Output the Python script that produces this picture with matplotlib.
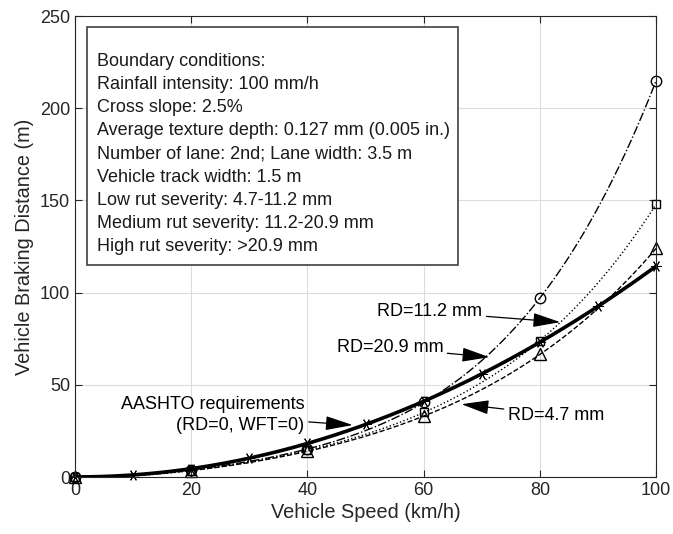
import numpy as np
import matplotlib.pyplot as plt
from matplotlib.patches import Rectangle

plt.rcParams['font.family'] = ['Liberation Sans', 'DejaVu Sans']

# Datos
speed = [0, 20, 40, 60, 80, 100]
rd_20_9 = [0, 4, 15, 40.5, 97, 215]
rd_11_2 = [0, 3.5, 14.5, 35, 74, 148]
rd_4_7 = [0, 3.5, 14, 33, 66.5, 124]

speed_aashto = [0, 10, 20, 30, 40, 50, 60, 70, 80, 90, 100]
aashto = [0, 1.1, 4.6, 10.3, 18.3, 28.5, 41, 56, 73, 92.5, 114.5]

info_lines = [
    "Boundary conditions:",
    "Rainfall intensity: 100 mm/h",
    "Cross slope: 2.5%",
    "Average texture depth: 0.127 mm (0.005 in.)",
    "Number of lane: 2nd; Lane width: 3.5 m",
    "Vehicle track width: 1.5 m",
    "Low rut severity: 4.7-11.2 mm",
    "Medium rut severity: 11.2-20.9 mm",
    "High rut severity: >20.9 mm",
]

fig = plt.figure(figsize=(6.73, 5.34), dpi=100)
ax = fig.add_axes([0.1114, 0.1067, 0.8636, 0.8633])

xs = np.linspace(0, 100, 300)


def smooth(x, y, deg):
    c = np.polyfit(x, y, deg)
    return np.clip(np.polyval(c, xs), 0, None)


# Curvas con marcadores
ax.plot(xs, smooth(speed, rd_20_9, 4), 'k-.', lw=1.0)
ax.plot(speed, rd_20_9, 'ko', mfc='none', ms=7.5, mew=1.0, clip_on=False)
ax.plot(xs, smooth(speed, rd_11_2, 4), 'k:', lw=1.0)
ax.plot(speed, rd_11_2, 'ks', mfc='none', ms=5.5, mew=1.0, clip_on=False)
ax.plot(xs, smooth(speed, rd_4_7, 4), 'k--', lw=1.0)
ax.plot(speed, rd_4_7, 'k^', mfc='none', ms=8, mew=1.0, clip_on=False)
ax.plot(xs, smooth(speed_aashto, aashto, 2), 'k-', lw=2.6)
ax.plot(speed_aashto, aashto, color='k', ls='none', marker=(6, 2, 90), ms=8, mew=0.7,
        clip_on=False)

ax.set_xlim(0, 100)
ax.set_ylim(0, 250)
ax.set_xticks(range(0, 101, 20))
ax.set_yticks(range(0, 251, 50))
ax.grid(True, color='#dcdcdc', lw=0.8)
ax.tick_params(direction='in', top=True, right=True, labelsize=13, colors='#262626', length=5)
for s in ax.spines.values():
    s.set_color('#262626')
ax.set_xlabel("Vehicle Speed (km/h)", fontsize=14.3, color='#262626', labelpad=3)
ax.set_ylabel("Vehicle Braking Distance (m)", fontsize=14.3, color='#262626', labelpad=4)

# Cuadro de condiciones
ax.add_patch(Rectangle((2.07, 115), 63.8, 129, fc='white', ec='#404040', lw=1.2, zorder=3))
for i, line in enumerate(info_lines):
    ax.text(3.8, 225.6 - i * 12.6, line, fontsize=13, va='center', ha='left',
            color='#1a1a1a', zorder=4)

# Anotaciones con flechas
arrow = dict(arrowstyle='-|>,head_length=0.85,head_width=0.22', color='k', lw=0.9,
             mutation_scale=20, shrinkA=1, shrinkB=0)
ax.annotate("RD=11.2 mm", xy=(83.5, 84), xytext=(52, 89.5), fontsize=13,
            va='center', ha='left', arrowprops=arrow)
ax.annotate("RD=20.9 mm", xy=(71.3, 65), xytext=(45, 70), fontsize=13,
            va='center', ha='left', arrowprops=arrow)
ax.annotate("RD=4.7 mm", xy=(66.5, 39.5), xytext=(74.5, 33.6), fontsize=13,
            va='center', ha='left', arrowprops=arrow)
ax.annotate("AASHTO requirements\n(RD=0, WFT=0)", xy=(47.8, 28.2), xytext=(39.5, 33.5),
            fontsize=13, va='center', ha='right', multialignment='right',
            linespacing=1.3, arrowprops=arrow)

fig.savefig("out.png", dpi=100)
